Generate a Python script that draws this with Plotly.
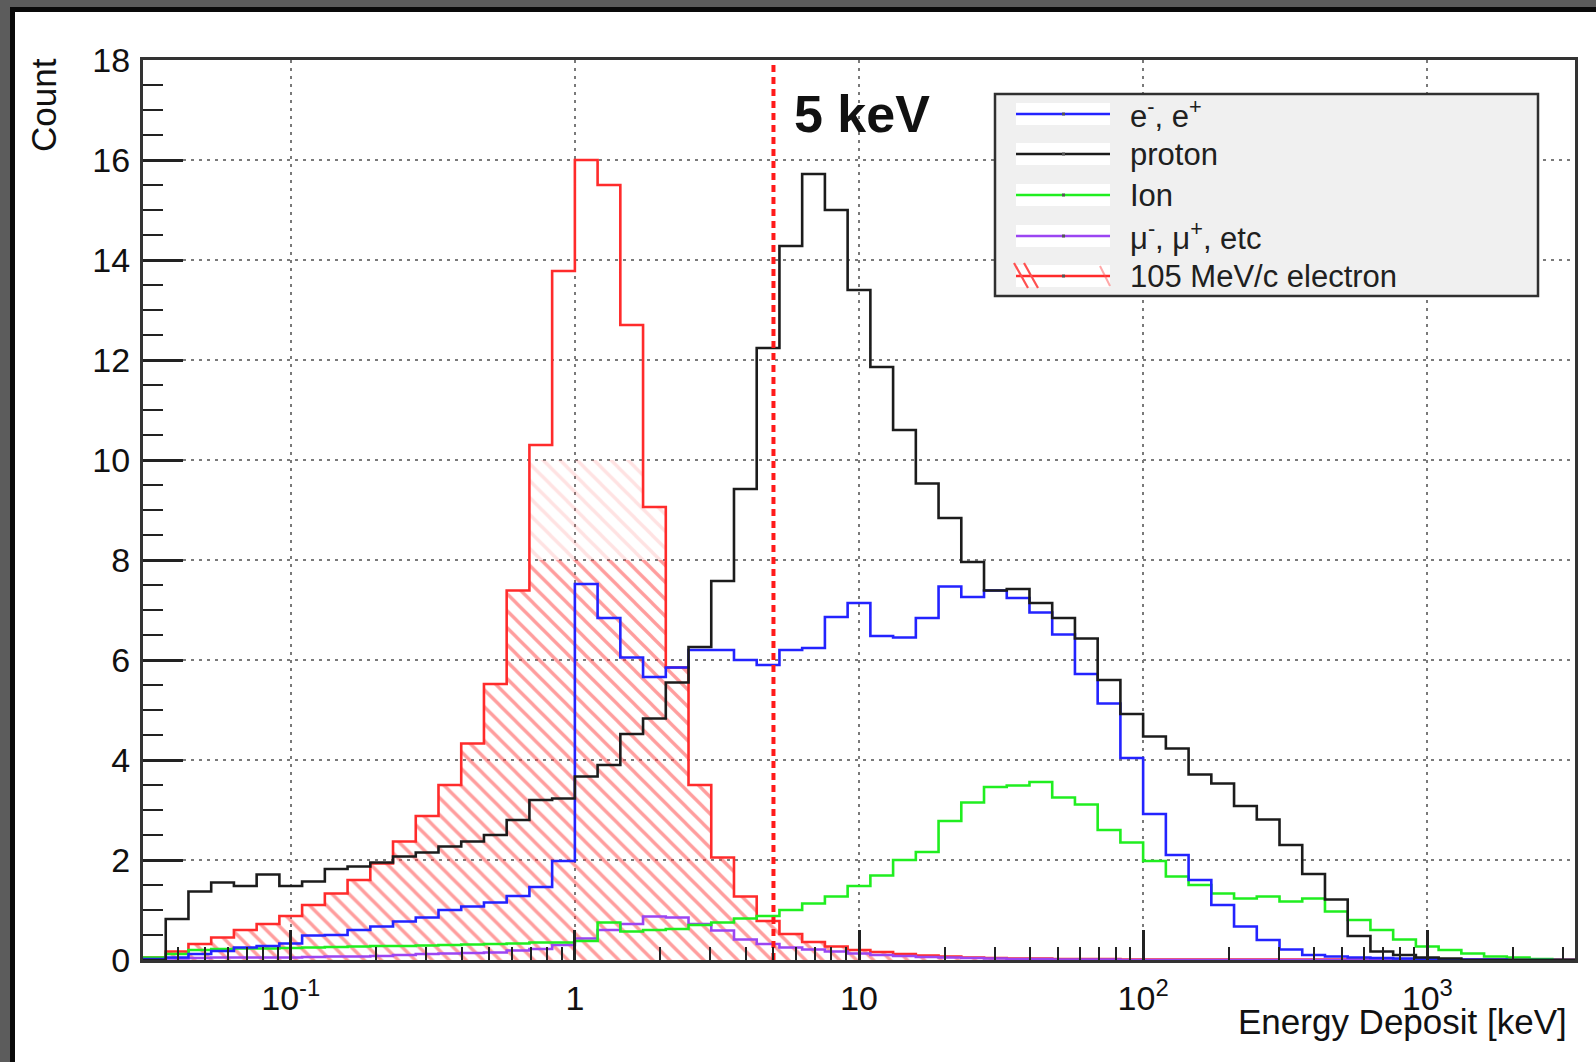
import numpy as np
import plotly.graph_objects as go

# Log-spaced binning of the energy deposit histograms (keV)
LOG_LO = -1.52
BIN_W = 0.08
N_BINS = 63
edges = 10 ** (LOG_LO + BIN_W * np.arange(N_BINS + 1))

# Bin contents, lowest bin first
electron_105 = [
    0.05, 0.17, 0.32, 0.45, 0.6, 0.72, 0.88, 1.1, 1.33, 1.6,
    1.93, 2.37, 2.88, 3.5, 4.33, 5.52, 7.39, 10.3, 13.78,
    16.0, 15.5, 12.7, 9.06, 5.85, 3.5, 2.05, 1.27, 0.78, 0.52,
    0.36, 0.27, 0.2, 0.16, 0.12, 0.09, 0.07, 0.05, 0.04, 0.03,
    0.03, 0.02, 0.02, 0.02, 0.01, 0.01, 0.01, 0.01, 0.01, 0.01,
    0.01, 0.01, 0.01, 0.01, 0.01, 0.01, 0.01, 0.01, 0.01, 0.01,
    0.01, 0.01, 0.01, 0.01,
]
proton = [
    0.0, 0.82, 1.37, 1.55, 1.48, 1.71, 1.48, 1.57, 1.82, 1.87,
    1.95, 2.07, 2.15, 2.27, 2.37, 2.5, 2.8, 3.2, 3.23,
    3.67, 3.9, 4.52, 4.83, 5.55, 6.26, 7.58, 9.42, 12.24, 14.28,
    15.72, 15.0, 13.4, 11.86, 10.6, 9.53, 8.84, 7.96, 7.39, 7.42,
    7.14, 6.84, 6.43, 5.6, 4.92, 4.47, 4.23, 3.71, 3.53, 3.08,
    2.81, 2.3, 1.72, 1.21, 0.48, 0.17, 0.1, 0.05, 0.03, 0.0,
    0.0, 0.0, 0.0, 0.0,
]
electron_positron = [
    0.02, 0.05, 0.12, 0.18, 0.25, 0.28, 0.33, 0.49, 0.5, 0.6,
    0.67, 0.77, 0.85, 1.0, 1.07, 1.15, 1.28, 1.46, 1.98,
    7.52, 6.84, 6.05, 5.66, 5.85, 6.2, 6.2, 6.0, 5.9, 6.2,
    6.24, 6.86, 7.14, 6.48, 6.45, 6.84, 7.47, 7.26, 7.39, 7.24,
    6.95, 6.51, 5.72, 5.13, 4.04, 2.92, 2.1, 1.6, 1.1, 0.67,
    0.4, 0.21, 0.1, 0.07, 0.05, 0.04, 0.03, 0.02, 0.01, 0.01,
    0.01, 0.0, 0.0, 0.0,
]
ion = [
    0.05, 0.12, 0.2, 0.22, 0.23, 0.23, 0.24, 0.25, 0.26, 0.27,
    0.28, 0.28, 0.29, 0.3, 0.31, 0.32, 0.33, 0.35, 0.35,
    0.38, 0.75, 0.57, 0.6, 0.62, 0.7, 0.75, 0.83, 0.88, 1.0,
    1.13, 1.27, 1.48, 1.69, 2.0, 2.16, 2.78, 3.15, 3.46, 3.49,
    3.56, 3.25, 3.11, 2.6, 2.35, 1.98, 1.67, 1.5, 1.33, 1.23,
    1.27, 1.17, 1.23, 0.97, 0.8, 0.6, 0.41, 0.27, 0.2, 0.13,
    0.07, 0.05, 0.02, 0.0,
]
muon_etc = [
    0.02, 0.03, 0.04, 0.05, 0.05, 0.05, 0.05, 0.06, 0.07, 0.07,
    0.08, 0.1, 0.12, 0.13, 0.14, 0.15, 0.19, 0.22, 0.3,
    0.43, 0.6, 0.72, 0.87, 0.85, 0.72, 0.59, 0.41, 0.32, 0.25,
    0.21, 0.17, 0.13, 0.1, 0.08, 0.06, 0.05, 0.04, 0.03, 0.02,
    0.02, 0.01, 0.01, 0.01, 0.0, 0.0, 0.0, 0.0, 0.0, 0.0,
    0.0, 0.0, 0.0, 0.0, 0.0, 0.0, 0.0, 0.0, 0.0, 0.0,
    0.0, 0.0, 0.0, 0.0,
]
for arr in (electron_105, proton, electron_positron, ion, muon_etc):
    assert len(arr) == N_BINS

THRESHOLD_KEV = 5
Y_MAX = 18
HATCH_FULL_TO = 8     # hatching fully drawn below this count
HATCH_FAINT_TO = 10   # faint hatching up to this count, none above

major_x = [0.1, 1, 10, 100, 1000]
major_x_text = ["10<sup>-1</sup>", "1", "10", "10<sup>2</sup>", "10<sup>3</sup>"]
minor_x = [m * d for d in (0.01, 0.1, 1, 10, 100, 1000) for m in range(2, 10)]
minor_x = [v for v in minor_x if edges[0] < v < edges[-1]]

legend_rows = [
    ("e<sup>-</sup>, e<sup>+</sup>", "#2323ff"),
    ("proton", "#1c1c1c"),
    ("Ion", "#20ee20"),
    ("μ<sup>-</sup>, μ<sup>+</sup>, etc", "#9b45f2"),
    ("105 MeV/c electron", "#ff2b2b"),
]

FONT = "Liberation Sans, Arial, Helvetica, sans-serif"
W, H = 1596, 1062
PL, PR, PT, PB = 143, 1575, 60, 960


def px(x):
    return (x - PL) / (PR - PL)


def py(y):
    return (PB - y) / (PB - PT)


def step(values):
    return list(values) + [values[-1]]


fig = go.Figure()

# 105 MeV/c electron: hatched area, fading out towards the top of the peak
red_full = np.minimum(electron_105, HATCH_FULL_TO)
red_faint = np.minimum(electron_105, HATCH_FAINT_TO)
fig.add_trace(go.Scatter(
    x=edges, y=step(red_full), mode="lines", line_shape="hv",
    line=dict(width=0, color="#ff2b2b"),
    fill="tozeroy", fillcolor="rgba(0,0,0,0)",
    fillpattern=dict(shape="\\", fgcolor="#ff3b3b", bgcolor="rgba(0,0,0,0)",
                     size=12, solidity=0.28),
    showlegend=False, hoverinfo="skip"))
fig.add_trace(go.Scatter(
    x=edges, y=step(red_faint), mode="lines", line_shape="hv",
    line=dict(width=0, color="#ff2b2b"),
    fill="tonexty", fillcolor="rgba(0,0,0,0)",
    fillpattern=dict(shape="\\", fgcolor="rgba(255,90,90,0.35)",
                     bgcolor="rgba(0,0,0,0)", size=12, solidity=0.28),
    showlegend=False, hoverinfo="skip"))

# outlines
series = [
    (electron_105, "#ff2b2b"),
    (muon_etc, "#9b45f2"),
    (ion, "#20ee20"),
    (electron_positron, "#2323ff"),
    (proton, "#1c1c1c"),
]
for vals, col in series:
    fig.add_trace(go.Scatter(
        x=edges, y=step(vals), mode="lines", line_shape="hv",
        line=dict(color=col, width=2.6), showlegend=False, hoverinfo="skip"))

# 5 keV threshold
fig.add_trace(go.Scatter(
    x=[THRESHOLD_KEV, THRESHOLD_KEV], y=[0, Y_MAX], mode="lines",
    line=dict(color="#ff1a1a", width=4, dash="7px,5px"),
    showlegend=False, hoverinfo="skip"))

shapes = []
annotations = []

# screen frame around the canvas (top and left)
shapes += [
    dict(type="rect", xref="paper", yref="paper", x0=px(0), x1=px(W), y0=py(0), y1=py(8),
         fillcolor="#5c5c5c", line_width=0, layer="above"),
    dict(type="rect", xref="paper", yref="paper", x0=px(0), x1=px(10), y0=py(0), y1=py(H),
         fillcolor="#5c5c5c", line_width=0, layer="above"),
    dict(type="rect", xref="paper", yref="paper", x0=px(10), x1=px(W), y0=py(7), y1=py(12),
         fillcolor="#0a0a0a", line_width=0, layer="above"),
    dict(type="rect", xref="paper", yref="paper", x0=px(10), x1=px(15), y0=py(7), y1=py(H),
         fillcolor="#0a0a0a", line_width=0, layer="above"),
]

# legend box
LX0, LX1, LY0, LY1 = 995, 1538, 94, 296
shapes.append(dict(type="rect", xref="paper", yref="paper",
                   x0=px(LX0), x1=px(LX1), y0=py(LY0), y1=py(LY1),
                   fillcolor="#f0f0f0", line=dict(color="#303030", width=2.5),
                   layer="above"))
row_y = [114, 154, 195, 236, 276]
SX0, SX1 = 1016, 1110
for (label, col), ry in zip(legend_rows, row_y):
    shapes.append(dict(type="rect", xref="paper", yref="paper",
                       x0=px(SX0), x1=px(SX1), y0=py(ry - 11), y1=py(ry + 11),
                       fillcolor="white", line_width=0, layer="above"))
    shapes.append(dict(type="line", xref="paper", yref="paper",
                       x0=px(SX0), x1=px(SX1), y0=py(ry), y1=py(ry),
                       line=dict(color=col, width=2.6), layer="above"))
    shapes.append(dict(type="rect", xref="paper", yref="paper",
                       x0=px(1062), x1=px(1065), y0=py(ry - 1.5), y1=py(ry + 1.5),
                       fillcolor="#555", line_width=0, layer="above"))
    annotations.append(dict(text=label, xref="paper", yref="paper",
                            x=px(1128), y=py(ry), xanchor="left", yanchor="middle",
                            showarrow=False, font=dict(family=FONT, size=31, color="#202020")))
# hatch strokes on the electron entry
hy = row_y[-1]
for hx0 in (1014, 1024):
    shapes.append(dict(type="line", xref="paper", yref="paper",
                       x0=px(hx0), x1=px(hx0 + 14), y0=py(hy - 13), y1=py(hy + 12),
                       line=dict(color="#ff5050", width=2.2), layer="above"))
shapes.append(dict(type="line", xref="paper", yref="paper",
                   x0=px(1100), x1=px(1110), y0=py(hy - 10), y1=py(hy + 10),
                   line=dict(color="rgba(255,80,80,0.5)", width=2), layer="above"))

annotations += [
    dict(text="<b>5 keV</b>", xref="paper", yref="paper", x=px(792), y=py(114),
         xanchor="left", yanchor="middle", showarrow=False,
         font=dict(family=FONT, size=52, color="#111")),
    dict(text="Count", xref="paper", yref="paper", x=px(44), y=py(56),
         xanchor="center", yanchor="top", textangle=-90, showarrow=False,
         font=dict(family=FONT, size=35, color="#111")),
    dict(text="Energy Deposit [keV]", xref="paper", yref="paper", x=px(1569), y=py(1021),
         xanchor="right", yanchor="middle", showarrow=False,
         font=dict(family=FONT, size=35, color="#111")),
]

fig.update_layout(
    width=W, height=H,
    margin=dict(l=PL, r=W - PR, t=PT, b=H - PB),
    paper_bgcolor="white", plot_bgcolor="white",
    showlegend=False,
    shapes=shapes, annotations=annotations,
    font=dict(family=FONT, color="#111"),
)
fig.update_xaxes(
    type="log", range=[np.log10(edges[0]), np.log10(edges[-1])],
    tickmode="array", tickvals=major_x, ticktext=major_x_text,
    ticks="inside", ticklen=30, tickwidth=2.5, tickcolor="#222",
    tickfont=dict(family=FONT, size=34, color="#111"), ticklabelstandoff=6,
    minor=dict(tickmode="array", tickvals=minor_x, ticks="inside", ticklen=13,
               tickwidth=2.2, tickcolor="#222", showgrid=False),
    showgrid=True, gridcolor="#7a7a7a", gridwidth=2, griddash="3px,5px",
    showline=True, linecolor="#333", linewidth=3, mirror=True, zeroline=False,
)
fig.update_yaxes(
    range=[0, Y_MAX], tickmode="linear", tick0=0, dtick=2,
    ticks="inside", ticklen=40, tickwidth=2.5, tickcolor="#222",
    tickfont=dict(family=FONT, size=34, color="#111"), ticklabelstandoff=3,
    minor=dict(dtick=0.5, ticks="inside", ticklen=20, tickwidth=2.2,
               tickcolor="#222", showgrid=False),
    showgrid=True, gridcolor="#7a7a7a", gridwidth=2, griddash="3px,5px",
    showline=True, linecolor="#333", linewidth=3, mirror=True, zeroline=False,
)

fig.write_html("out.html")
